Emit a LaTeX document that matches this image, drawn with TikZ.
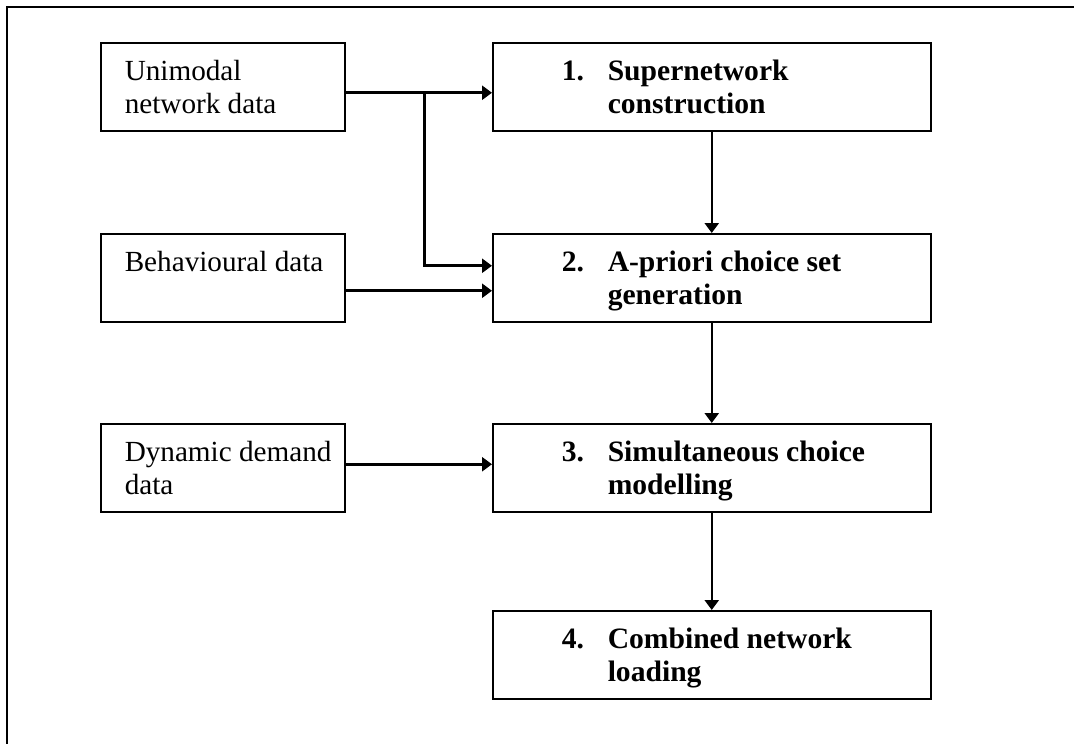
\documentclass[tikz,border=0pt]{standalone}
\usepackage{fontspec}
\setmainfont{Liberation Serif}
\usetikzlibrary{arrows.meta}

% text set at the top of a box
\newcommand{\datatext}[1]{\parbox[t][88pt][t]{244pt}{\vspace*{14.9pt}\leftskip=24pt\strut #1}}
\newcommand{\steptext}[3]{\parbox[t][88pt][t]{438pt}{\vspace*{14.9pt}\leftskip=69pt\strut\makebox[46pt][l]{#1}#2\\\hspace*{46pt}#3}}

\tikzset{
	databox/.style={draw, line width=1.5pt, inner sep=0pt, anchor=north west, font=\fontsize{29.2}{33}\selectfont},
	stepbox/.style={databox, font=\fontsize{29.6}{33}\selectfont\bfseries},
	inflow/.style={line width=3pt, -{Triangle[length=10pt,width=14pt]}},
	stepflow/.style={line width=2.5pt, -{Triangle[length=10pt,width=14pt]}}
}

\begin{document}
\begin{tikzpicture}[x=1pt,y=-1pt]
		\useasboundingbox (0,0) rectangle (1074,744);
		\draw[line width=2pt] (7,746) -- (7,7) -- (1076,7);
		
		% inputs
		\node[databox] (unimodal) at (100,42) {\datatext{Unimodal\\network data}};
		\node[databox] (behav) at (100,233) {\datatext{Behavioural data}};
		\node[databox] (dynamic) at (100,423) {\datatext{Dynamic demand\\data}};
		
		% steps
		\node[stepbox] (supernet) at (492,42) {\steptext{1.}{Supernetwork}{construction}};
		\node[stepbox] (choiceset) at (492,233) {\steptext{2.}{A-priori choice set}{generation}};
		\node[stepbox] (simchoice) at (492,423) {\steptext{3.}{Simultaneous choice}{modelling}};
		\node[stepbox] (loading) at (492,610) {\steptext{4.}{Combined network}{loading}};
		
		\draw[inflow] ([yshift=-6pt]unimodal.east) -- ([yshift=-6pt]supernet.west);
		\coordinate (split) at (424,92);
		\draw[inflow] (split) |- ([yshift=12pt]choiceset.west);
		\draw[inflow] ([yshift=-13pt]behav.east) -- ([yshift=-13pt]choiceset.west);
		\draw[inflow] ([yshift=3.5pt]dynamic.east) -- ([yshift=3.5pt]simchoice.west);
		
		\draw[stepflow] (supernet.south) -- (choiceset.north);
		\draw[stepflow] (choiceset.south) -- (simchoice.north);
		\draw[stepflow] (simchoice.south) -- (loading.north);
		
	\end{tikzpicture}
\end{document}
